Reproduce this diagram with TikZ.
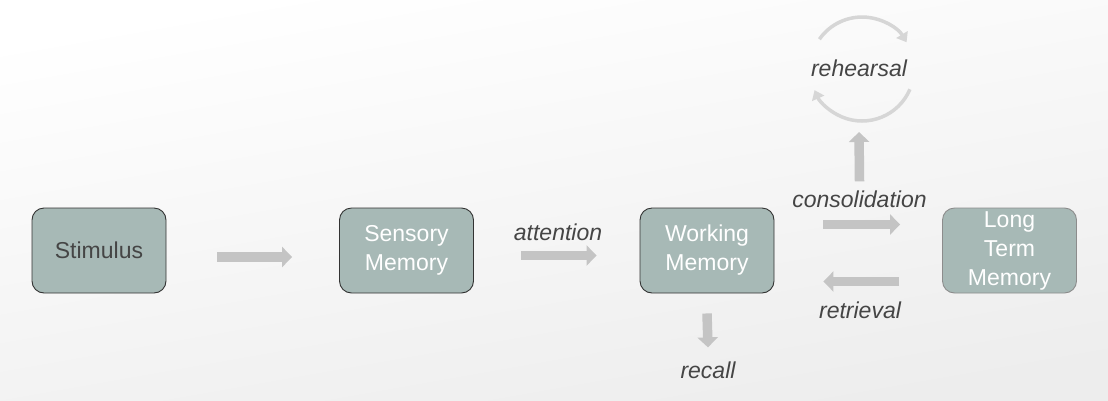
\documentclass[tikz,border=0pt]{standalone}
\usepackage{fontspec}
\setmainfont{Liberation Sans}
\usetikzlibrary{calc,arrows.meta}

\definecolor{boxfill}{HTML}{A7B9B6}
\definecolor{arrowgray}{HTML}{C4C4C4}
\definecolor{loopgray}{HTML}{D6D6D6}
\definecolor{textgray}{HTML}{454545}

\tikzset{
	memory/.style={draw=black!80, line width=0.9pt, fill=boxfill, rounded corners=12pt,
		minimum width=134pt, minimum height=85pt, inner sep=0pt, align=center,
		text=white, font=\fontsize{23}{29}\selectfont},
	label/.style={text=textgray, inner sep=0pt, font=\fontsize{23}{28}\selectfont\itshape},
	blockarrow/.style={draw=arrowgray, line width=9.5pt, -{Triangle[length=10pt,width=20pt]}},
	looparrow/.style={draw=loopgray, line width=3.5pt, -{Triangle[length=9pt,width=13pt]}}
}

\begin{document}
\begin{tikzpicture}[x=1pt,y=-1pt]

		% background
		\shade[top color=white, bottom color=black!7, shading angle=10] (0,0) rectangle (1108,400);
		\useasboundingbox (0,0) rectangle (1108,400);

		% Boxes
		\node[memory, text=textgray] (stim) at (99,250.5) {Stimulus};
		\node[memory] (sens) at (406.5,250.5) {Sensory\\Memory};
		\node[memory] (work) at (707,250.5) {Working\\Memory};
		\node[memory, draw=black!45] (ltm) at (1009.5,250.5) {Long\\Term\\Memory};

		% Labels
		\node[label] (att) at (558,232) {attention};
		\node[label] (cons) at (859.5,199) {consolidation};
		\node[label] (retr) at (860,310) {retrieval};
		\node[label] (recall) at (708,370) {recall};
		\node[label] (reh) at (859,68) {rehearsal};

		% Arrows
		\draw[blockarrow] ($(stim.east)+(51,6.5)$) -- ($(sens.west)+(-47,6.5)$);
		\draw[blockarrow] ($(sens.east)+(47,5)$) -- ($(work.west)+(-43,5)$);
		\draw[blockarrow] ($(work.east)+(49,-26)$) -- ($(ltm.west)+(-42,-26)$);
		\draw[blockarrow] ($(ltm.west)+(-43,31)$) -- ($(work.east)+(49,31)$);
		\draw[blockarrow] ($(work.south)+(0,20)$) -- ($(recall.north)+(0,-14)$);
		\draw[blockarrow] ($(cons.north)+(0,-9)$) -- ($(reh.center)+(0,64)$);

		% rehearsal loop
		\draw[looparrow] ($(reh.center)+(-39.6,-28.8)$) arc[start angle=145, end angle=31, radius=52pt];
		\draw[looparrow] ($(reh.center)+(50.9,21.3)$) arc[start angle=-23, end angle=-156, radius=52pt];

\end{tikzpicture}
\end{document}
